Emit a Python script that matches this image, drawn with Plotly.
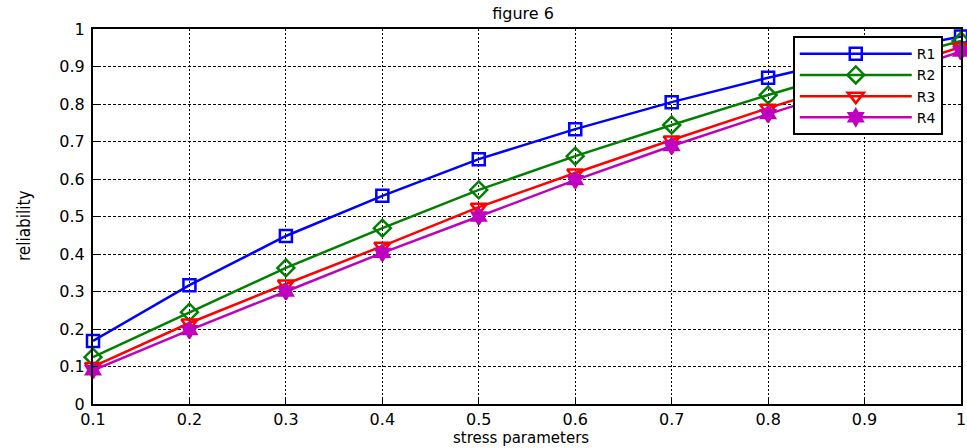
import plotly.graph_objects as go

stress = [0.1, 0.2, 0.3, 0.4, 0.5, 0.6, 0.7, 0.8, 0.9, 1.0]
r1 = [0.168, 0.317, 0.448, 0.555, 0.653, 0.733, 0.805, 0.870, 0.930, 0.980]
r2 = [0.125, 0.245, 0.363, 0.469, 0.571, 0.661, 0.744, 0.824, 0.900, 0.968]
r3 = [0.100, 0.216, 0.320, 0.421, 0.525, 0.616, 0.704, 0.789, 0.870, 0.952]
r4 = [0.090, 0.197, 0.300, 0.403, 0.500, 0.597, 0.688, 0.773, 0.855, 0.940]

x_ticks = [0.1, 0.2, 0.3, 0.4, 0.5, 0.6, 0.7, 0.8, 0.9, 1.0]
x_tick_text = ["0.1", "0.2", "0.3", "0.4", "0.5", "0.6", "0.7", "0.8", "0.9", "1"]
y_ticks = [0, 0.1, 0.2, 0.3, 0.4, 0.5, 0.6, 0.7, 0.8, 0.9, 1.0]
y_tick_text = ["0", "0.1", "0.2", "0.3", "0.4", "0.5", "0.6", "0.7", "0.8", "0.9", "1"]

series = [
    ("R1", r1, "#0000ff", "square-open", 12),
    ("R2", r2, "#008000", "diamond-open", 13),
    ("R3", r3, "#ff0000", "triangle-down-open", 14),
    ("R4", r4, "#bf00bf", "hexagram", 12),
]

FONT = "DejaVu Sans, Liberation Sans, Arial"

fig = go.Figure()
for name, vals, color, sym, sz in series:
    fig.add_trace(go.Scatter(
        x=stress, y=vals, name=name, mode="lines+markers",
        line=dict(color=color, width=2.5),
        marker=dict(symbol=sym, size=sz, color=color,
                    line=dict(color=color, width=2.5)),
        cliponaxis=False,
    ))

axis_common = dict(
    showline=True, linecolor="black", linewidth=2, mirror=True,
    showgrid=True, gridcolor="black", gridwidth=1,
    ticks="inside", ticklen=5, tickcolor="black", tickwidth=1,
    tickfont=dict(family=FONT, size=16, color="black"),
    zeroline=False, automargin=False,
)

fig.update_layout(
    width=967, height=448,
    margin=dict(l=93, r=6, t=29, b=44),
    paper_bgcolor="white", plot_bgcolor="white",
    title=dict(text="figure 6", x=(523 / 967), xanchor="center",
               y=1 - 13 / 448, yanchor="middle",
               font=dict(family=FONT, size=16, color="black")),
    xaxis=dict(axis_common, range=[0.1, 1.0], tickvals=x_ticks, ticktext=x_tick_text,
               ticklabelstandoff=0, griddash="2px,2px"),
    yaxis=dict(axis_common, range=[0, 1.0], tickvals=y_ticks, ticktext=y_tick_text,
               ticklabelstandoff=3, griddash="3px,2px"),
    legend=dict(x=0.979, xanchor="right", y=0.981, yanchor="top",
                bgcolor="white", bordercolor="black", borderwidth=2,
                font=dict(family=FONT, size=14, color="black"),
                itemwidth=112, tracegroupgap=0),
    showlegend=True,
    annotations=[
        dict(text="stress parameters", xref="paper", yref="paper",
             x=0.493, y=-0.0907, xanchor="center", yanchor="middle", showarrow=False,
             font=dict(family=FONT, size=15, color="black")),
        dict(text="reliability", xref="paper", yref="paper",
             x=-0.0795, y=0.477, xanchor="center", yanchor="middle", showarrow=False,
             textangle=-90,
             font=dict(family="Liberation Sans Narrow, DejaVu Sans Condensed, Arial Narrow",
                       size=17, color="black")),
    ],
)

fig.write_html("out.html", config={"displayModeBar": False},
               post_script="document.body.style.margin='0';")
